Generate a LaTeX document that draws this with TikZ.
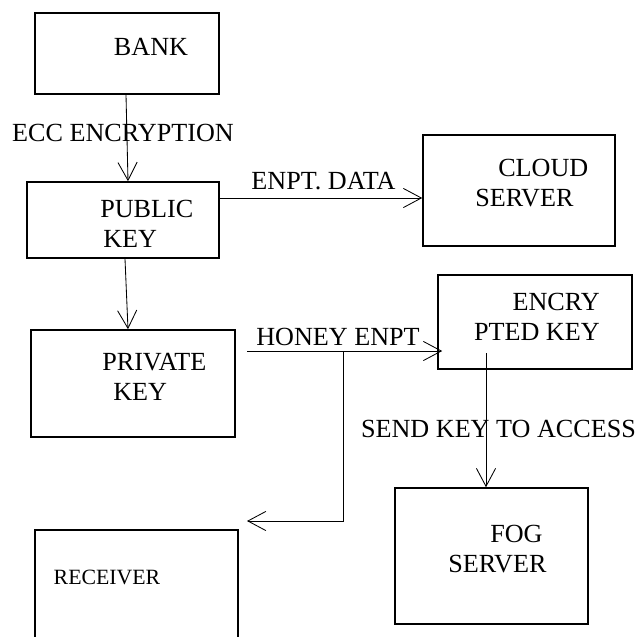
\documentclass[tikz,border=0pt]{standalone}
\usepackage{fontspec}
\setmainfont{Liberation Serif}
\usepackage{tikz}
\usetikzlibrary{arrows.meta}
\usetikzlibrary{calc}
\tikzset{>={Straight Barb[length=4.5mm,width=4.8mm]}}

\begin{document}
\begin{tikzpicture}
            \tikzset{box/.style = {draw, line width=1.1pt, inner sep=0pt}}
            \tikzset{txt/.style = {inner sep=0pt, font=\fontsize{18.6}{21}\selectfont}}
            \tikzset{flow/.style = {->, line width=0.6pt}}
            \useasboundingbox (0, 0) rectangle (15.95, -15.925);
            \node[box, minimum width=4.6cm, minimum height=2.025cm] (bank) at (3.175, -1.3375) {};
            \node[box, minimum width=4.8cm, minimum height=1.9cm] (pub) at (3.075, -5.5) {};
            \node[box, minimum width=5.1cm, minimum height=2.675cm] (priv) at (3.325, -9.5875) {};
            \node[box, minimum width=5.075cm, minimum height=3.25cm] (recv) at (3.4125, -14.875) {};
            \node[box, minimum width=4.8cm, minimum height=2.775cm] (cloud) at (12.975, -4.7625) {};
            \node[box, minimum width=4.85cm, minimum height=2.35cm] (encr) at (13.375, -8.05) {};
            \node[box, minimum width=4.825cm, minimum height=3.4cm] (fog) at (12.2875, -13.9) {};
            \node[txt] (bankTxt) at (3.775, -1.175) {BANK};
            \node[txt, align=left, anchor=west] (pubTxt) at (2.5, -5.6) {PUBLIC\\\hspace{0.075cm}KEY};
            \node[txt, align=left, anchor=west] (privTxt) at (2.55, -9.425) {PRIVATE\\\hspace{0.275cm}KEY};
            \node[txt, font=\fontsize{15.5}{18}\selectfont] (recvTxt) at (2.675, -14.425) {RECEIVER};
            \node[txt, align=left, anchor=west] (cloudTxt) at (11.875, -4.575) {\hspace{0.575cm}CLOUD\\SERVER};
            \node[txt, align=right, anchor=east] (encrTxt) at (15.0, -7.925) {ENCRY\\PTED KEY};
            \node[txt, align=left, anchor=west] (fogTxt) at (11.2, -13.725) {\hspace{1.05cm}FOG\\SERVER};
            \node[txt] (eccLbl) at (3.075, -3.3125) {ECC ENCRYPTION};
            \node[txt] (dataLbl) at (8.0875, -4.525) {ENPT. DATA};
            \node[txt] (honeyLbl) at (8.45, -8.4125) {HONEY ENPT};
            \node[txt] (sendLbl) at (12.4625, -10.7125) {SEND KEY TO ACCESS};
            \coordinate (hs) at (6.175, -8.775);
            \coordinate (hb) at (8.575, -8.775);
            \coordinate (rtip) at (6.175, -13.025);
            \coordinate (ek) at (12.15, -8.825);
            \draw[flow] ([xshift=-0.025cm]bank.south) -- ([xshift=0.125cm]pub.north);
            \draw[flow] ([xshift=0.05cm]pub.south) -- ([xshift=-0.125cm]priv.north);
            \draw[flow] ([yshift=0.55cm]pub.east) -- ([yshift=0.55cm]pub.east -| cloud.west);
            \draw[flow] (hs) -- ([xshift=0.125cm]hs -| encr.west);
            \draw[flow] (hb) |- (rtip);
            \draw[flow] (ek) -- (ek |- fog.north);
        \end{tikzpicture}
\end{document}
